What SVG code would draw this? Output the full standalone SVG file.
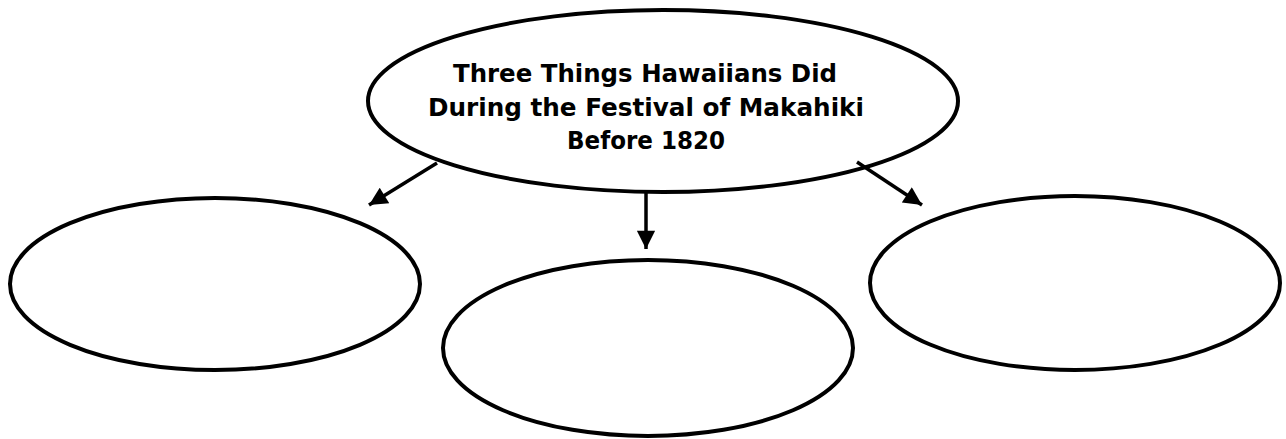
<svg xmlns="http://www.w3.org/2000/svg" width="1286" height="439" viewBox="0 0 1286 439">
<style>
.n{fill:#fff;stroke:#000;stroke-width:4}
.c{stroke:#000;stroke-width:3.5;fill:none}
.t{font-family:"DejaVu Sans","Liberation Sans",sans-serif;font-weight:bold;font-size:25px;fill:#000;text-anchor:middle}
</style>
<defs>
<marker id="ah" viewBox="0 0 10 10" refX="10" refY="5" markerWidth="6.6" markerHeight="5.2" orient="auto" markerUnits="strokeWidth">
<path d="M0,0 L10,5 L0,10 z" fill="#000"/>
</marker>
</defs>
<g id="top">
<ellipse class="n" cx="663" cy="101" rx="295" ry="91"/>
<text class="t" x="645" y="82" textLength="384" lengthAdjust="spacingAndGlyphs">Three Things Hawaiians Did</text>
<text class="t" x="646" y="116" textLength="436" lengthAdjust="spacingAndGlyphs">During the Festival of Makahiki</text>
<text class="t" x="646" y="149" textLength="158" lengthAdjust="spacingAndGlyphs">Before 1820</text>
</g>
<g id="left">
<ellipse class="n" cx="215" cy="284" rx="205" ry="86"/>
</g>
<g id="middle">
<ellipse class="n" cx="648" cy="348" rx="205" ry="88"/>
</g>
<g id="right">
<ellipse class="n" cx="1075" cy="283" rx="205" ry="87"/>
</g>
<g id="connectors">
<line class="c" x1="437" y1="163" x2="369" y2="205" marker-end="url(#ah)"/>
<line class="c" x1="646" y1="192" x2="646" y2="249" marker-end="url(#ah)"/>
<line class="c" x1="857" y1="162" x2="922" y2="205" marker-end="url(#ah)"/>
</g>
</svg>
